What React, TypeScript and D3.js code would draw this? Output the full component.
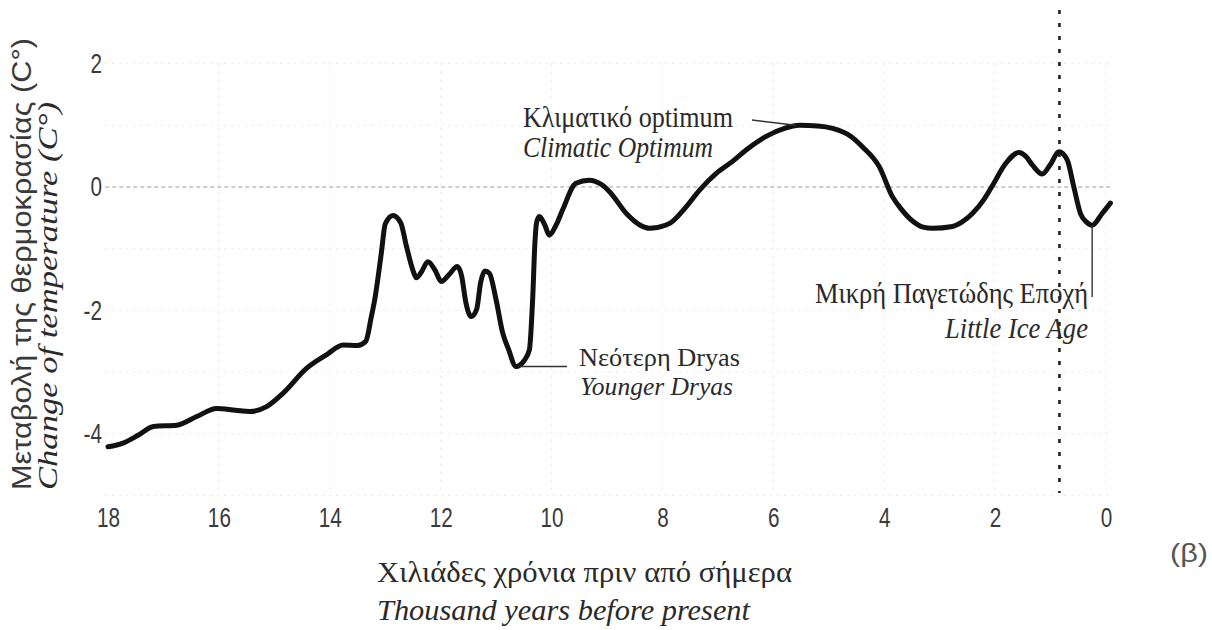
import React, { useEffect, useRef } from "react";
import * as d3 from "d3";

// thousand years before present
const yearsBP = [
  18.0, 17.73, 17.45, 17.18, 16.76, 16.4, 16.04, 15.7, 15.44, 15.14, 14.84, 14.42, 14.06, 13.76,
  13.5, 13.35, 13.25, 13.19, 13.07, 13.0, 12.86, 12.72, 12.62, 12.5, 12.44, 12.35, 12.23, 12.1,
  11.99, 11.85, 11.7, 11.62, 11.55, 11.45, 11.35, 11.28, 11.2, 11.12, 11.0, 10.88, 10.78, 10.64,
  10.5, 10.4, 10.34, 10.3, 10.27, 10.22, 10.12, 10.04, 9.92, 9.8, 9.56, 9.32, 9.1, 8.95, 8.65,
  8.4, 8.23, 7.95, 7.87, 7.6, 7.33, 7.03, 6.73, 6.49, 6.13, 5.8, 5.53, 5.2, 4.93, 4.6, 4.39,
  4.09, 3.85, 3.7, 3.49, 3.3, 3.13, 2.77, 2.6, 2.41, 2.2, 2.05, 1.81, 1.57, 1.45, 1.33, 1.15,
  1.0, 0.85, 0.7, 0.58, 0.46, 0.35, 0.25, 0.07, -0.08,
];
// change of temperature (°C)
const tempChange = [
  -4.21, -4.15, -4.02, -3.88, -3.86, -3.72, -3.59, -3.62, -3.64, -3.56, -3.34, -2.94, -2.72, -2.56,
  -2.57, -2.5, -2.1, -1.83, -1.07, -0.6, -0.46, -0.58, -0.95, -1.35, -1.47, -1.38, -1.21, -1.35,
  -1.53, -1.42, -1.29, -1.45, -1.85, -2.1, -1.98, -1.55, -1.36, -1.4, -1.83, -2.37, -2.62, -2.91,
  -2.82, -2.64, -1.8, -0.9, -0.58, -0.48, -0.62, -0.78, -0.62, -0.37, 0.06, 0.11, 0.04, -0.08, -0.43,
  -0.62, -0.67, -0.62, -0.59, -0.35, -0.05, 0.22, 0.42, 0.6, 0.82, 0.95, 1.0, 0.99, 0.95, 0.82, 0.65,
  0.33, -0.16, -0.35, -0.55, -0.65, -0.67, -0.64, -0.57, -0.43, -0.2, 0.02, 0.38, 0.56, 0.5, 0.36, 0.21,
  0.37, 0.57, 0.44, 0.0, -0.43, -0.57, -0.62, -0.43, -0.26,
];

const xTicks = [18, 16, 14, 12, 10, 8, 6, 4, 2, 0];
const yTicks = [2, 0, -2, -4];
const gridY = [2, 1, 0, -1, -2, -3, -4, -5];

const annotationGreek = ["Κλιματικό optimum", "Νεότερη Dryas", "Μικρή Παγετώδης Εποχή"];
const annotationEnglish = ["Climatic Optimum", "Younger Dryas", "Little Ice Age"];
const annotationYear = [5.6, 10.62, 0.25];
const annotationTemp = [1.0, -2.91, -0.62];
const markerYear = 0.84;

const yTitleGreek = "Μεταβολή της θερμοκρασίας (C°)";
const yTitleEnglish = "Change of temperature (C°)";
const xTitleGreek = "Χιλιάδες χρόνια πριν από σήμερα";
const xTitleEnglish = "Thousand years before present";
const panelLabel = "(β)";

export default function App() {
  const ref = useRef<SVGSVGElement | null>(null);

  useEffect(() => {
    const svg = d3.select(ref.current);
    svg.selectAll("*").remove();

    const x = d3.scaleLinear().domain([18, 0]).range([108, 1106]);
    const y = d3.scaleLinear().domain([-5, 2]).range([495.5, 63.6]);

    const serif = "'Liberation Serif', 'Times New Roman', serif";
    const sans = "'Liberation Sans', Arial, sans-serif";

    // grid
    const grid = svg.append("g");
    grid
      .selectAll("line.h")
      .data(gridY)
      .join("line")
      .attr("x1", x(18.05))
      .attr("x2", x(-0.12))
      .attr("y1", (d) => y(d))
      .attr("y2", (d) => y(d))
      .attr("stroke", (d) => (d === 0 ? "#bdbdbd" : "#e8e8e8"))
      .attr("stroke-width", (d) => (d === 0 ? 1.3 : 1))
      .attr("stroke-dasharray", (d) => (d === 0 ? "4,3" : "2,5"));
    grid
      .selectAll("line.v")
      .data(xTicks.filter((d) => d !== 18))
      .join("line")
      .attr("x1", (d) => x(d))
      .attr("x2", (d) => x(d))
      .attr("y1", y(2))
      .attr("y2", y(-5))
      .attr("stroke", "#e8e8e8")
      .attr("stroke-width", 1)
      .attr("stroke-dasharray", "2,6");

    // axes
    const fmt = (d: d3.NumberValue) => String(d);
    const xAxis = svg
      .append("g")
      .attr("transform", `translate(0,${y(-5)})`)
      .call(d3.axisBottom(x).tickValues(xTicks).tickSize(0).tickPadding(12).tickFormat(fmt));
    xAxis.select(".domain").remove();
    xAxis
      .selectAll("text")
      .attr("font-family", sans)
      .attr("font-size", 28)
      .attr("fill", "#3a3a3a")
      .attr("transform", "scale(0.74,1)");

    const yAxis = svg
      .append("g")
      .attr("transform", `translate(${x(18)},0)`)
      .call(d3.axisLeft(y).tickValues(yTicks).tickSize(0).tickPadding(6).tickFormat(fmt));
    yAxis.select(".domain").remove();
    yAxis
      .selectAll("text")
      .attr("font-family", sans)
      .attr("font-size", 28)
      .attr("fill", "#3a3a3a")
      .attr("transform", "scale(0.74,1)")
      .attr("x", -6 / 0.74);

    // dashed marker
    svg
      .append("line")
      .attr("x1", x(markerYear))
      .attr("x2", x(markerYear))
      .attr("y1", 10)
      .attr("y2", 493)
      .attr("stroke", "#222")
      .attr("stroke-width", 2.6)
      .attr("stroke-dasharray", "4,9");

    // curve
    const data = yearsBP.map((t, i) => ({ t, v: tempChange[i] }));
    const line = d3
      .line<{ t: number; v: number }>()
      .x((d) => x(d.t))
      .y((d) => y(d.v))
      .curve(d3.curveMonotoneX);
    svg
      .append("path")
      .datum(data)
      .attr("d", line)
      .attr("fill", "none")
      .attr("stroke", "#111")
      .attr("stroke-width", 5)
      .attr("stroke-linejoin", "round")
      .attr("stroke-linecap", "round");

    // annotation pointers
    const ptr = svg.append("g").attr("stroke", "#333").attr("stroke-width", 1.4).attr("fill", "none");
    ptr
      .append("line")
      .attr("x1", 752)
      .attr("y1", 120)
      .attr("x2", x(annotationYear[0]))
      .attr("y2", y(annotationTemp[0]));
    ptr
      .append("line")
      .attr("x1", x(annotationYear[1]) + 4)
      .attr("y1", y(annotationTemp[1]))
      .attr("x2", 567)
      .attr("y2", y(annotationTemp[1]));
    ptr
      .append("line")
      .attr("x1", x(annotationYear[2]))
      .attr("y1", y(annotationTemp[2]))
      .attr("x2", x(annotationYear[2]))
      .attr("y2", 297);

    const txt = (
      s: string,
      px: number,
      py: number,
      len: number,
      italic: boolean,
      size = 29,
      family = serif,
      fill = "#2a2a2a"
    ) =>
      svg
        .append("text")
        .attr("x", px)
        .attr("y", py)
        .attr("font-family", family)
        .attr("font-size", size)
        .attr("font-style", italic ? "italic" : "normal")
        .attr("fill", fill)
        .attr("textLength", len)
        .attr("lengthAdjust", "spacingAndGlyphs")
        .text(s);

    txt(annotationGreek[0], 523, 127, 210, false);
    txt(annotationEnglish[0], 523, 157, 190, true);
    txt(annotationGreek[1], 579, 366, 161, false, 26);
    txt(annotationEnglish[1], 580, 395, 153, true, 26);
    txt(annotationGreek[2], 815, 303, 273, false);
    txt(annotationEnglish[2], 945, 338, 143, true);

    txt(xTitleGreek, 377, 582, 415, false);
    txt(xTitleEnglish, 377, 620, 373, true);

    txt(panelLabel, 1170, 562, 38, false, 26, sans, "#555");

    // y titles
    svg
      .append("text")
      .attr("transform", "translate(31,490) rotate(-90)")
      .attr("font-family", sans)
      .attr("font-size", 27)
      .attr("fill", "#3a3a3a")
      .attr("textLength", 452)
      .attr("lengthAdjust", "spacingAndGlyphs")
      .text(yTitleGreek);
    svg
      .append("text")
      .attr("transform", "translate(57,490) rotate(-90)")
      .attr("font-family", serif)
      .attr("font-style", "italic")
      .attr("font-size", 28)
      .attr("fill", "#2a2a2a")
      .attr("textLength", 388)
      .attr("lengthAdjust", "spacingAndGlyphs")
      .text(yTitleEnglish);
  }, []);

  return (
    <svg
      ref={ref}
      width={1212}
      height={630}
      style={{ position: "absolute", left: 0, top: 0, background: "#fff" }}
    />
  );
}
